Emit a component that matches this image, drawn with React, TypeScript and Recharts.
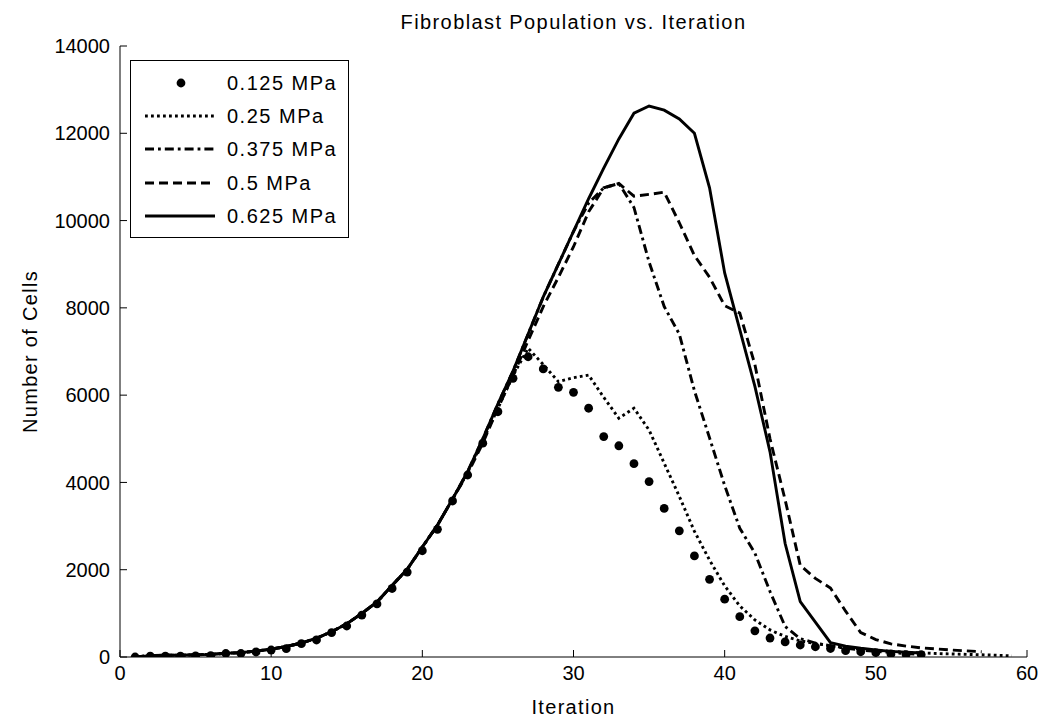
import { Label, Legend, Line, LineChart, XAxis, YAxis } from "recharts"

// iteration number (x) for each sample
const iterations = [
  1, 2, 3, 4, 5, 6, 7, 8, 9, 10, 11, 12, 13, 14, 15, 16, 17, 18, 19, 20,
  21, 22, 23, 24, 25, 26, 27, 28, 29, 30, 31, 32, 33, 34, 35, 36, 37, 38, 39, 40,
  41, 42, 43, 44, 45, 46, 47, 48, 49, 50, 51, 52, 53, 54, 55, 56, 57, 58, 59,
]

// cell counts per pressure (series stop where the run ended)
const mpa0125 = [
  0, 20, 20, 20, 25, 30, 80, 80, 115, 160, 190, 305, 390, 560, 710, 960, 1215, 1570, 1945, 2435,
  2925, 3575, 4170, 4900, 5620, 6385, 6880, 6600, 6180, 6065, 5700, 5050, 4840, 4430, 4020, 3405, 2890, 2315, 1780, 1325,
  925, 600, 435, 345, 275, 235, 195, 145, 120, 100, 70, 55, 55,
]
const mpa025 = [
  0, 30, 40, 40, 50, 60, 85, 100, 135, 180, 240, 320, 430, 580, 760, 1000, 1260, 1640, 2010, 2520,
  3020, 3620, 4230, 4950, 5700, 6450, 7075, 6700, 6310, 6400, 6460, 5950, 5470, 5700, 5200, 4440, 3680, 2880, 2220, 1630,
  1170, 850, 620, 470, 370, 310, 260, 210, 180, 150, 130, 110, 95, 80, 70, 60, 50, 40, 25,
]
const mpa0375 = [
  0, 30, 40, 40, 50, 60, 85, 100, 135, 180, 240, 320, 430, 580, 760, 1000, 1260, 1640, 2010, 2520,
  3020, 3620, 4250, 5000, 5800, 6550, 7400, 8250, 9000, 9750, 10400, 10750, 10850, 10300, 9050, 8030, 7400, 6100, 5020, 3930,
  2950, 2380, 1500, 700, 420, 320, 250, 200, 160, 130, 100, 80, 60,
]
const mpa05 = [
  0, 30, 40, 40, 50, 60, 85, 100, 135, 180, 240, 320, 430, 580, 760, 1000, 1260, 1640, 2010, 2520,
  3020, 3620, 4200, 4900, 5700, 6450, 7250, 8030, 8700, 9400, 10200, 10750, 10850, 10560, 10600, 10650, 9950, 9200, 8700, 8050,
  7880, 6700, 5000, 3600, 2100, 1800, 1580, 1050, 560, 400, 300, 250, 210, 185, 160, 140, 120,
]
const mpa0625 = [
  0, 30, 40, 40, 50, 60, 85, 100, 135, 180, 240, 320, 430, 580, 760, 1000, 1260, 1640, 2010, 2520,
  3020, 3620, 4250, 5000, 5800, 6550, 7400, 8250, 9000, 9750, 10500, 11200, 11870, 12460, 12625, 12530, 12330, 12000, 10750, 8800,
  7500, 6200, 4700, 2600, 1270, 800, 330, 250, 200, 160, 130, 110, 90,
]

const xTicks = [0, 10, 20, 30, 40, 50, 60]
const yTicks = [0, 2000, 4000, 6000, 8000, 10000, 12000, 14000]

const series = [
  { key: "p0125", name: "0.125 MPa", values: mpa0125, dash: "", dots: true },
  { key: "p025", name: "0.25 MPa", values: mpa025, dash: "2.8 3.2", dots: false },
  { key: "p0375", name: "0.375 MPa", values: mpa0375, dash: "9 4 2.8 4", dots: false },
  { key: "p05", name: "0.5 MPa", values: mpa05, dash: "9 5", dots: false },
  { key: "p0625", name: "0.625 MPa", values: mpa0625, dash: "", dots: false },
]

const data = iterations.map((iter, i) => {
  const row: Record<string, number | null> = { iter }
  series.forEach((s) => {
    row[s.key] = s.values[i] ?? null
  })
  return row
})

const FONT = "'Liberation Sans', Arial, Helvetica, sans-serif"
const tickStyle = { fontSize: 20, fill: "#000", fontFamily: FONT }
const LINE_W = 2.9

function LegendBox() {
  return (
    <div
      style={{
        border: "1px solid #000",
        background: "#fff",
        padding: "5px 0",
        boxSizing: "border-box",
        width: 219,
        fontFamily: FONT,
      }}
    >
      {series.map((s) => (
        <div key={s.key} style={{ display: "flex", alignItems: "center", height: 33.3 }}>
          <svg width={84} height={20} style={{ display: "block" }}>
            {s.dots ? (
              <circle cx={50} cy={10} r={4.4} fill="#000" />
            ) : (
              <line x1={14} x2={84} y1={10} y2={10} stroke="#000" strokeWidth={LINE_W} strokeDasharray={s.dash || undefined} />
            )}
          </svg>
          <span style={{ marginLeft: 12, fontSize: 20, letterSpacing: 1.5, color: "#000", lineHeight: 1 }}>{s.name}</span>
        </div>
      ))}
    </div>
  )
}

export default function App() {
  return (
    <div style={{ position: "absolute", left: 0, top: 0, width: 1050, height: 728, background: "#fff" }}>
      <div
        style={{
          position: "absolute",
          left: 120,
          width: 907,
          top: 9,
          textAlign: "center",
          fontFamily: FONT,
          fontSize: 20,
          letterSpacing: 1.4,
          color: "#000",
          lineHeight: "26px",
        }}
      >
        Fibroblast Population vs. Iteration
      </div>
      <LineChart width={1050} height={728} data={data} margin={{ top: 46, right: 23, bottom: 41, left: 0 }}>
        <XAxis
          xAxisId="main"
          dataKey="iter"
          type="number"
          domain={[0, 60]}
          ticks={xTicks}
          allowDataOverflow
          height={30}
          stroke="#000"
          tickSize={-7}
          tickMargin={16}
          tick={tickStyle}
        >
          <Label value="Iteration" position="bottom" offset={13} style={{ fontSize: 20, fill: "#000", fontFamily: FONT, letterSpacing: 1.3 }} />
        </XAxis>
        <XAxis
          xAxisId="top"
          orientation="top"
          type="number"
          domain={[0, 60]}
          ticks={xTicks}
          allowDataOverflow
          height={0}
          stroke="#000"
          tickSize={-7}
          tick={false}
        />
        <YAxis
          yAxisId="main"
          type="number"
          domain={[0, 14000]}
          ticks={yTicks}
          allowDataOverflow
          width={120}
          stroke="#000"
          tickSize={-7}
          tickMargin={17}
          tick={tickStyle}
        >
          <Label
            value="Number of Cells"
            angle={-90}
            position="insideLeft"
            offset={30}
            style={{ textAnchor: "middle", fontSize: 20, fill: "#000", fontFamily: FONT, letterSpacing: 1.3 }}
          />
        </YAxis>
        <YAxis
          yAxisId="right"
          orientation="right"
          type="number"
          domain={[0, 14000]}
          ticks={yTicks}
          allowDataOverflow
          width={0}
          stroke="#000"
          tickSize={-7}
          tick={false}
        />
        <Legend
          layout="vertical"
          align="center"
          verticalAlign="middle"
          content={<LegendBox />}
          wrapperStyle={{ left: 130, top: 60, width: 219 }}
        />
        {series.map((s) =>
          s.dots ? (
            <Line
              key={s.key}
              xAxisId="main"
              yAxisId="main"
              dataKey={s.key}
              name={s.name}
              stroke="none"
              dot={{ r: 4.4, fill: "#000", stroke: "none" }}
              activeDot={false}
              isAnimationActive={false}
            />
          ) : (
            <Line
              key={s.key}
              xAxisId="main"
              yAxisId="main"
              type="linear"
              dataKey={s.key}
              name={s.name}
              stroke="#000"
              strokeWidth={LINE_W}
              strokeDasharray={s.dash || undefined}
              dot={false}
              activeDot={false}
              isAnimationActive={false}
            />
          ),
        )}
      </LineChart>
    </div>
  )
}
